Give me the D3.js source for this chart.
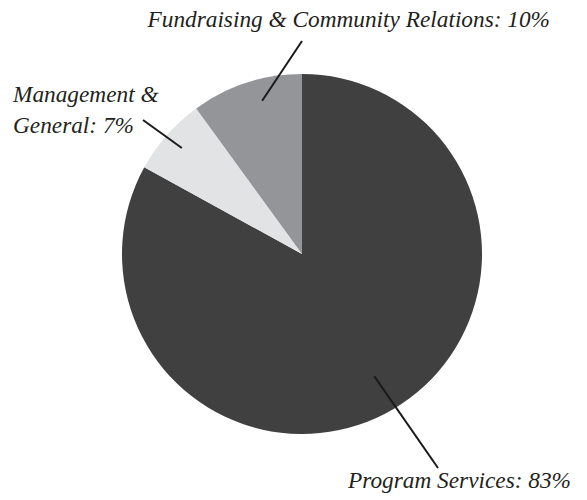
<!DOCTYPE html>
<html><head><meta charset="utf-8">
<script src="https://cdn.jsdelivr.net/npm/d3@7"></script>
<style>body{margin:0;background:#fff}</style>
</head><body>
<svg id="c" width="587" height="500"></svg>
<script>
const categories = ["Program Services", "Management & General", "Fundraising & Community Relations"];
const values = [83, 7, 10];
const colors = ["#404040", "#e2e3e4", "#939598"];
const labelLines = [["Program Services: 83%"], ["Management &", "General: 7%"], ["Fundraising & Community Relations: 10%"]];
const labelPos = [[571, 488, "end"], [13, 102, "start"], [550, 27, "end"]];
const leaderEnd = [[438, 468], [143, 120], [302, 41]];
const leaderR = [0.79, 0.89, 0.88];
const leaderAngleShift = [0, 0, 0.06];

const svg = d3.select("#c");
const cx = 302, cy = 254, R = 180;
const g = svg.append("g").attr("transform", `translate(${cx},${cy})`);
const pie = d3.pie().sort(null).value(d => d)(values);
const arc = d3.arc().innerRadius(0).outerRadius(R);
g.selectAll("path").data(pie).join("path")
  .attr("d", arc).attr("fill", (d, i) => colors[i]);

pie.forEach((d, i) => {
  const a = (d.startAngle + d.endAngle) / 2 + leaderAngleShift[i];
  const r = R * leaderR[i];
  const x1 = cx + r * Math.sin(a), y1 = cy - r * Math.cos(a);
  svg.append("line").attr("x1", x1).attr("y1", y1)
    .attr("x2", leaderEnd[i][0]).attr("y2", leaderEnd[i][1])
    .attr("stroke", "#1a1a1a").attr("stroke-width", 2);
  const t = svg.append("text").attr("x", labelPos[i][0]).attr("y", labelPos[i][1])
    .attr("text-anchor", labelPos[i][2])
    .style("font-family", '"Liberation Serif"').style("font-style", "italic")
    .style("font-size", "23.3px").attr("fill", "#231f20");
  labelLines[i].forEach((ln, j) => {
    t.append("tspan").attr("x", labelPos[i][0]).attr("dy", j ? 31 : 0).text(ln);
  });
});
</script>
</body></html>
